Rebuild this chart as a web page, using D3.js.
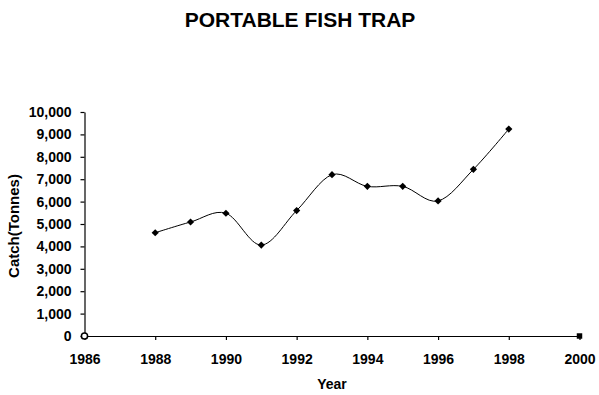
<!DOCTYPE html>
<html><head><meta charset="utf-8">
<script src="https://cdn.jsdelivr.net/npm/d3@7"></script>
<style>body{margin:0;background:#fff}svg{display:block}text{font-family:"Liberation Sans",Arial,sans-serif;font-weight:bold;fill:#000}</style>
</head><body>
<script>
const years = [1988,1989,1990,1991,1992,1993,1994,1995,1996,1997,1998];
const catches = [4610,5090,5480,4060,5600,7200,6680,6680,6030,7440,9240];
const edgeYears = [1986,2000];
const edgeValues = [0,0];
const xTicks = [1986,1988,1990,1992,1994,1996,1998,2000];
const yTicks = [0,1000,2000,3000,4000,5000,6000,7000,8000,9000,10000];
const title = "PORTABLE FISH TRAP", xTitle = "Year", yTitle = "Catch(Tonnes)";

const W=599,H=395;
const svg=d3.select("body").append("svg").attr("width",W).attr("height",H);
const x=d3.scaleLinear().domain([1986,2000]).range([84.5,579.5]);
const y=d3.scaleLinear().domain([0,10000]).range([336,112]);

svg.append("text").attr("x",300).attr("y",27).attr("text-anchor","middle").style("font-size","21px").text(title);

const xa=svg.append("g").attr("transform","translate(0,336)")
  .call(d3.axisBottom(x).tickValues(xTicks).tickFormat(d3.format("d")).tickSize(4).tickPadding(12).tickSizeOuter(0));
const ya=svg.append("g").attr("transform","translate(84.5,0)")
  .call(d3.axisLeft(y).tickValues(yTicks).tickFormat(d3.format(",")).tickSize(4).tickPadding(9).tickSizeOuter(0));
[xa,ya].forEach(a=>{a.selectAll("path,line").attr("stroke","#000").attr("stroke-width",1.2);a.selectAll("text").style("font-size","14px").style("font-family","'Liberation Sans',Arial,sans-serif").style("font-weight","bold");});
xa.selectAll("text").attr("dy","0.85em");

svg.append("text").attr("x",332).attr("y",389).attr("text-anchor","middle").style("font-size","14px").text(xTitle);
svg.append("text").attr("transform","translate(19,226) rotate(-90)").attr("text-anchor","middle").style("font-size","15px").text(yTitle);

const pts=years.map((d,i)=>[d,catches[i]]);
svg.append("path").datum(pts).attr("fill","none").attr("stroke","#000").attr("stroke-width",1)
  .attr("d",d3.line().x(d=>x(d[0])).y(d=>y(d[1])).curve(d3.curveCardinal.tension(0)));
svg.selectAll(".m").data(pts).join("path").attr("transform",d=>`translate(${x(d[0])},${y(d[1])}) rotate(45)`)
  .attr("d",d3.symbol(d3.symbolSquare,26)).attr("fill","#000");
svg.append("path").attr("transform",`translate(${x(edgeYears[0])},${y(edgeValues[0])})`).attr("d",d3.symbol(d3.symbolCircle,30)).attr("fill","#fff").attr("stroke","#000").attr("stroke-width",1.5);
svg.append("path").attr("transform",`translate(${x(edgeYears[1])},${y(edgeValues[1])})`).attr("d",d3.symbol(d3.symbolSquare,30)).attr("fill","#000");
</script></body></html>
